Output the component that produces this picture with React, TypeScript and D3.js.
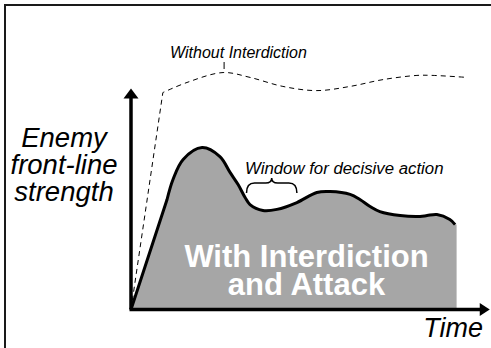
import React from "react";
import * as d3 from "d3";

// "With Interdiction and Attack" curve (time units, strength units)
const withTime = [1.03, 1.2, 1.49, 2.03, 2.54, 2.83, 3.06, 3.26, 3.4, 3.77, 4.17, 4.74, 5.31, 5.69, 6.26, 6.54, 6.83, 7.11, 7.69, 8.26, 8.46, 8.74, 9.11, 9.26];
const withStrength = [5.0, 5.91, 6.82, 7.36, 6.95, 6.23, 5.68, 5.09, 4.77, 4.5, 4.55, 4.86, 5.32, 5.36, 5.23, 5.0, 4.68, 4.45, 4.27, 4.23, 4.27, 4.32, 4.09, 3.86];

// "Without Interdiction" dashed curve
const withoutTime = [0.91, 1.6, 2.63, 3.4, 4.34, 5.31, 6.26, 7.2, 8.17, 8.63, 9.6];
const withoutStrength = [9.86, 10.32, 10.77, 10.55, 10.14, 9.95, 10.14, 10.45, 10.64, 10.64, 10.55];

const yLabel = ["Enemy", "front-line", "strength"];
const areaLabel = ["With Interdiction", "and Attack"];
const xLabel = "Time";
const withoutLabel = "Without Interdiction";
const windowLabel = "Window for decisive action";

const W = 491;
const H = 348;
const FONT = "'Liberation Sans', Arial, Helvetica, sans-serif";

export default function App() {
  const x = d3.scaleLinear().domain([0, 10]).range([131, 481]);
  const y = d3.scaleLinear().domain([0, 10]).range([309.5, 89.5]);

  const smooth = d3
    .line<[number, number]>()
    .x((d) => x(d[0]))
    .y((d) => y(d[1]))
    .curve(d3.curveCatmullRom.alpha(0.5));

  const withPts = withTime.map((t, i) => [t, withStrength[i]] as [number, number]);
  const withoutPts = withoutTime.map((t, i) => [t, withoutStrength[i]] as [number, number]);

  const ox = x(0);
  const oy = y(0);
  const withCurve = (smooth(withPts) || "").replace(/^M/, "L");
  const withLine = "M" + ox + "," + oy + withCurve;
  const last = withPts[withPts.length - 1];
  const fillRight = x(last[0]) + 1.5;
  const withArea =
    withLine + "L" + fillRight + "," + y(last[1]) + "L" + fillRight + "," + oy + "Z";

  const withoutLine = "M" + ox + "," + oy + (smooth(withoutPts) || "").replace(/^M/, "L");

  // axis ends
  const yTop = y(10);
  const xEnd = x(10.25);

  // brace under the window label, spanning the dip
  const bx0 = x(3.3);
  const bx1 = x(4.74);
  const bm = (bx0 + bx1) / 2;
  const bTop = 178;
  const bBot = 193;
  const bMid = 183;
  const brace =
    `M${bx0},${bBot} Q${bx0},${bMid} ${bx0 + 8},${bMid} L${bm - 6},${bMid} Q${bm},${bMid} ${bm},${bTop}` +
    ` Q${bm},${bMid} ${bm + 6},${bMid} L${bx1 - 8},${bMid} Q${bx1},${bMid} ${bx1},${bBot}`;

  // tick at top of dashed curve
  const tickX = x(2.66);

  return (
    <svg
      width={W}
      height={H}
      style={{ position: "absolute", left: 0, top: 0, background: "#fff" }}
    >
      <rect x={5} y={5} width={W + 20} height={H + 20} fill="#fff" stroke="#1a1a1a" strokeWidth={2} />

      <path d={withArea} fill="#a6a6a6" stroke="none" />
      <path d={withLine} fill="none" stroke="#000" strokeWidth={3} strokeLinejoin="round" />
      <path d={withoutLine} fill="none" stroke="#000" strokeWidth={1} strokeDasharray="5,4" />

      {/* axes */}
      <line x1={ox} y1={oy} x2={ox} y2={yTop + 8} stroke="#000" strokeWidth={3.5} />
      <path d={`M${ox},${yTop - 1} L${ox - 7.5},${yTop + 9} L${ox + 7.5},${yTop + 9} Z`} fill="#000" />
      <line x1={ox - 1.5} y1={oy} x2={xEnd - 8} y2={oy} stroke="#000" strokeWidth={3.5} />
      <path d={`M${xEnd},${oy} L${xEnd - 10},${oy - 6.5} L${xEnd - 10},${oy + 6.5} Z`} fill="#000" />

      {/* labels */}
      <g fontFamily={FONT} fontStyle="italic" fill="#000">
        {yLabel.map((s, i) => (
          <text key={s} x={64} y={147 + i * 27} fontSize={27.5} textAnchor="middle">
            {s}
          </text>
        ))}
        <text x={483} y={337} fontSize={27} textAnchor="end">
          {xLabel}
        </text>
        <text x={238.5} y={58} fontSize={16} textAnchor="middle">
          {withoutLabel}
        </text>
        <text x={245} y={174} fontSize={16.8}>
          {windowLabel}
        </text>
      </g>
      <line x1={tickX} y1={62} x2={tickX} y2={69} stroke="#000" strokeWidth={1} />
      <path d={brace} fill="none" stroke="#000" strokeWidth={1.5} />

      <g fontFamily={FONT} fontWeight="bold" fill="#fff" textAnchor="middle">
        {areaLabel.map((s, i) => (
          <text key={s} x={306.5} y={267 + i * 28} fontSize={31}>
            {s}
          </text>
        ))}
      </g>
    </svg>
  );
}
